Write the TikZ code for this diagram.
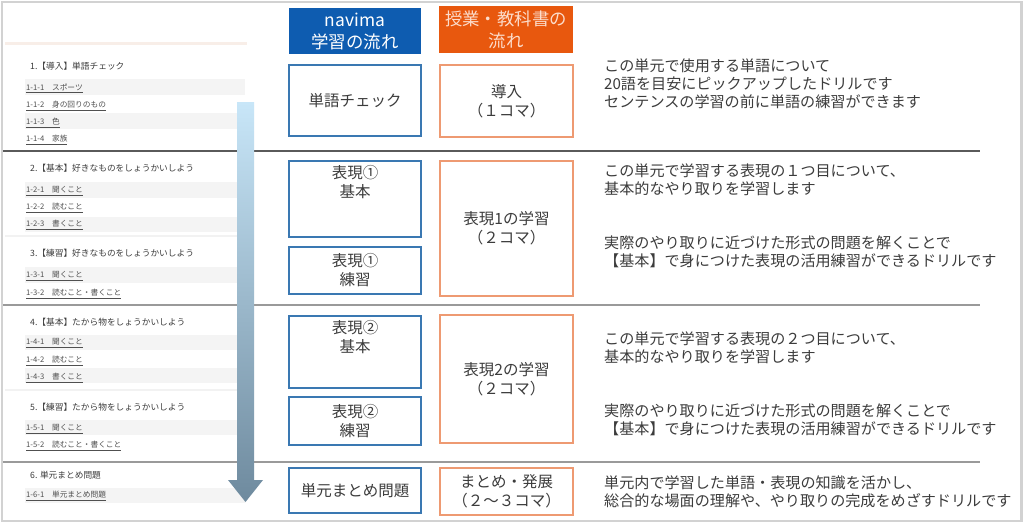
\documentclass[tikz,border=0pt]{standalone}
\usepackage{fontspec}
\setmainfont{Noto Sans CJK JP}
\definecolor{hdrblue}{HTML}{0E5CB0}
\definecolor{hdrorange}{HTML}{E8580E}
\definecolor{hdrotext}{HTML}{FCDCCB}
\definecolor{boxblue}{HTML}{3A78B2}
\definecolor{boxorange}{HTML}{EE9A72}
\definecolor{txt}{HTML}{3C3C3C}
\definecolor{itemgray}{HTML}{505050}
\definecolor{bandgray}{HTML}{F4F4F4}
\definecolor{framegray}{HTML}{D2D2D2}
\definecolor{sepdark}{HTML}{5A5A5A}
\definecolor{sepgray}{HTML}{9A9A9A}
\definecolor{arrtop}{HTML}{C8E6F8}
\definecolor{arrbot}{HTML}{6E8A9E}
\definecolor{peach}{HTML}{F8EEE8}
\begin{document}
\begin{tikzpicture}[x=1pt,y=-1pt,
  hdr/.style={minimum width=132, minimum height=46, inner sep=0, align=center, font=\fontsize{17.4}{22}\selectfont},
  bbox/.style={draw=boxblue, line width=1.3, fill=white, minimum width=132, inner sep=0, align=center, text=txt, font=\fontsize{15.5}{19}\selectfont},
  obox/.style={draw=boxorange, line width=1.3, fill=white, minimum width=133, inner sep=0, align=center, text=txt, font=\fontsize{15.5}{19}\selectfont},
  boxtxt/.style={inner sep=0, align=center, text=txt, font=\fontsize{15.5}{19}\selectfont},
  desc/.style={anchor=west, align=left, inner sep=0, text=txt, font=\fontsize{15.1}{17.8}\selectfont},
  lhead/.style={anchor=west, inner sep=0, text=txt, font=\fontsize{8.7}{10}\selectfont},
  litem/.style={anchor=west, inner sep=0, text=itemgray, font=\fontsize{7.7}{9}\selectfont},
  band/.style={fill=bandgray, draw=none}
]
\useasboundingbox (0,0) rectangle (1024,523);
\fill[white] (0,0) rectangle (1024,523);

% ---- left panel (menu screenshot) ----
\fill[peach] (5,42) rectangle (247,45);
\fill[band] (25,79) rectangle (245,95);
\fill[band] (25,113) rectangle (245,129);
\fill[band] (25,182) rectangle (245,198);
\fill[band] (25,217) rectangle (245,232);
\fill[band] (25,267) rectangle (245,283);
\fill[band] (25,335) rectangle (245,350);
\fill[band] (25,368) rectangle (245,383);
\fill[band] (25,420) rectangle (245,435);
\fill[band] (25,488) rectangle (245,503);
\fill[gray!10] (5,235) rectangle (247,237);
\fill[gray!10] (5,389) rectangle (247,391);

\node[lhead] (h1) at (30,66) {1.【導入】単語チェック};
\node[litem] (i11) at (26,88) {\underline{1-1-1　スポーツ}};
\node[litem] (i12) at (26,106) {\underline{1-1-2　身の回りのもの}};
\node[litem] (i13) at (26,123) {\underline{1-1-3　色}};
\node[litem] (i14) at (26,140) {\underline{1-1-4　家族}};

\node[lhead] (h2) at (30,168) {2.【基本】好きなものをしょうかいしよう};
\node[litem] (i21) at (26,191) {\underline{1-2-1　聞くこと}};
\node[litem] (i22) at (26,208) {\underline{1-2-2　読むこと}};
\node[litem] (i23) at (26,225) {\underline{1-2-3　書くこと}};

\node[lhead] (h3) at (30,253) {3.【練習】好きなものをしょうかいしよう};
\node[litem] (i31) at (26,276) {\underline{1-3-1　聞くこと}};
\node[litem] (i32) at (26,294) {\underline{1-3-2　読むこと・書くこと}};

\node[lhead] (h4) at (30,322) {4.【基本】たから物をしょうかいしよう};
\node[litem] (i41) at (26,343) {\underline{1-4-1　聞くこと}};
\node[litem] (i42) at (26,361) {\underline{1-4-2　読むこと}};
\node[litem] (i43) at (26,378) {\underline{1-4-3　書くこと}};

\node[lhead] (h5) at (30,407) {5.【練習】たから物をしょうかいしよう};
\node[litem] (i51) at (26,429) {\underline{1-5-1　聞くこと}};
\node[litem] (i52) at (26,446) {\underline{1-5-2　読むこと・書くこと}};

\node[lhead] (h6) at (30,475) {6. 単元まとめ問題};
\node[litem] (i61) at (26,496) {\underline{1-6-1　単元まとめ問題}};

% ---- separators ----
\draw[sepdark, line width=1.3] (3,151) -- (980,151);
\draw[sepgray, line width=1.6] (3,305) -- (980,305);
\draw[sepgray, line width=2] (3,461.5) -- (980,461.5);

% ---- big gradient arrow ----
\shade[top color=arrtop, bottom color=arrbot]
  (237,102) -- (254,102) -- (254,480) -- (263,480) -- (245.5,502) -- (228,480) -- (237,480) -- cycle;

% ---- headers ----
\node[hdr, fill=hdrblue, text=white] (hb) at (355,31) {navima\\学習の流れ};
\node[hdr, fill=hdrorange, text=hdrotext, minimum width=134, minimum height=47] (ho) at (506,29.5) {授業・教科書の\\流れ};

% ---- navima boxes ----
\node[bbox, minimum height=71] (b1) at (355,100.5) {単語チェック};
\node[bbox, minimum height=76] (b2) at (355,199) {};
\node[boxtxt, anchor=north] (b2t) at ([yshift=-5]b2.north) {表現①\\基本};
\node[bbox, minimum height=47] (b3) at (355,270.5) {表現①\\練習};
\node[bbox, minimum height=72] (b4) at (355,352) {};
\node[boxtxt, anchor=north] (b4t) at ([yshift=-5]b4.north) {表現②\\基本};
\node[bbox, minimum height=48] (b5) at (355,421) {表現②\\練習};
\node[bbox, minimum height=45] (b6) at (355,490.5) {単元まとめ問題};

% ---- textbook boxes ----
\node[obox, minimum height=72] (o1) at (506.5,101) {導入\\（１コマ）};
\node[obox, minimum height=135] (o2) at (506.5,228.5) {表現1の学習\\（２コマ）};
\node[obox, minimum height=128] (o3) at (506.5,379) {表現2の学習\\（２コマ）};
\node[obox, minimum height=47] (o4) at (506.5,491.5) {まとめ・発展\\（２～３コマ）};

% ---- descriptions ----
\node[desc] (d1) at (604,84) {この単元で使用する単語について\\20語を目安にピックアップしたドリルです\\センテンスの学習の前に単語の練習ができます};
\node[desc] (d2) at (604,180) {この単元で学習する表現の１つ目について、\\基本的なやり取りを学習します};
\node[desc] (d3) at (604,252) {実際のやり取りに近づけた形式の問題を解くことで\\【基本】で身につけた表現の活用練習ができるドリルです};
\node[desc] (d4) at (604,347.5) {この単元で学習する表現の２つ目について、\\基本的なやり取りを学習します};
\node[desc] (d5) at (604,419.5) {実際のやり取りに近づけた形式の問題を解くことで\\【基本】で身につけた表現の活用練習ができるドリルです};
\node[desc] (d6) at (604,492) {単元内で学習した単語・表現の知識を活かし、\\総合的な場面の理解や、やり取りの完成をめざすドリルです};

% ---- outer frame ----
\draw[framegray, line width=2.5] (1.8,1.8) rectangle (1021.5,521);
\end{tikzpicture}
\end{document}
